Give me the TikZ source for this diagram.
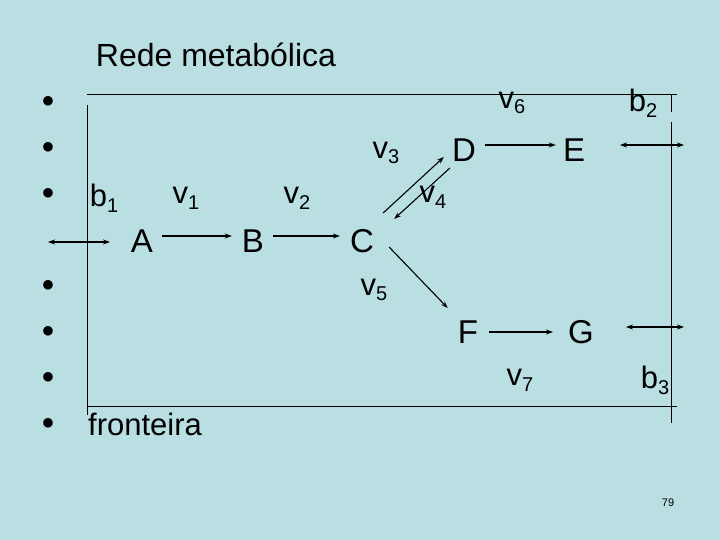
\documentclass[tikz,border=0pt]{standalone}
\usepackage{fontspec}
\setmainfont{Liberation Sans}
\usetikzlibrary{arrows.meta}
\definecolor{bgc}{RGB}{185,223,227}
\newcommand{\sbs}[1]{\raisebox{-0.35ex}{\fontsize{20}{22}\selectfont#1}}
\begin{document}
\begin{tikzpicture}[x=1pt,y=-1pt,
	met/.style={font=\fontsize{33}{36}\selectfont,inner sep=0pt},
	flux/.style={font=\fontsize{31}{34}\selectfont,inner sep=0pt},
	dot/.style={font=\fontsize{26}{28}\selectfont,inner sep=0pt},
	rx/.style={line width=1.1pt,-{Stealth[length=7pt,width=5pt]}},
	ex/.style={line width=1.1pt,{Stealth[length=7pt,width=5pt]}-{Stealth[length=7pt,width=5pt]}}]
	\fill[bgc] (0,0) rectangle (720,540);
	\useasboundingbox (0,0) rectangle (720,540);
	%
	\node[inner sep=0pt,font=\fontsize{32}{36}\selectfont] (title) at (216,55) {Rede metabólica};
	\foreach \y/\n in {102/1,148/2,194/3,286/4,332/5,378/6,424/7}
		\node[dot] (dot\n) at (48,\y) {$\bullet$};
	% fronteira
	\draw[line width=0.8pt] (87,94) -- (677,94);
	\draw[line width=0.8pt] (87,406) -- (677,406);
	\draw[line width=0.8pt] (87,105) -- (87,415);
	\draw[line width=0.8pt] (671,94) -- (671,112);
	\draw[line width=0.8pt] (671,122) -- (671,423);
	\node[flux] (front) at (145,424) {fronteira};
	% metabolitos
	\node[met] (A) at (142,241) {A};
	\node[met] (B) at (253,241) {B};
	\node[met] (C) at (362,241) {C};
	\node[met] (D) at (464,150) {D};
	\node[met] (E) at (574,150) {E};
	\node[met] (F) at (468,332) {F};
	\node[met] (G) at (581,332) {G};
	% fluxos
	\node[flux] (b1) at (104,198) {b\sbs{1}};
	\node[flux] (v1) at (186,198) {v\sbs{1}};
	\node[flux] (v2) at (297,198) {v\sbs{2}};
	\node[flux] (v3) at (386,153) {v\sbs{3}};
	\node[flux] (v4) at (433,197) {v\sbs{4}};
	\node[flux] (v5) at (374,290) {v\sbs{5}};
	\node[flux] (v6) at (512,103) {v\sbs{6}};
	\node[flux] (v7) at (520,380) {v\sbs{7}};
	\node[flux] (b2) at (643,103) {b\sbs{2}};
	\node[flux] (b3) at (655,380) {b\sbs{3}};
	\coordinate (l1) at (48,242);
	\coordinate (l2) at (110,242);
	\coordinate (r1) at (620,145);
	\coordinate (r2) at (684,145);
	\coordinate (s1) at (626,327);
	\coordinate (s2) at (684,327);
	%
	\draw[ex] (l1) -- (l2);
	\draw[ex] (r1) -- (r2);
	\draw[ex] (s1) -- (s2);
	\draw[rx] ([xshift=9pt,yshift=5pt]A.east) -- ([xshift=-10pt,yshift=5pt]B.west);
	\draw[rx] ([xshift=9pt,yshift=5pt]B.east) -- ([xshift=-10pt,yshift=5pt]C.west);
	\draw[rx] ([xshift=9pt,yshift=28pt]C.east) -- ([xshift=-8pt,yshift=-7pt]D.west);
	\draw[rx] ([xshift=-2pt,yshift=-18pt]D.west) -- ([xshift=20pt,yshift=22pt]C.east);
	\draw[rx] ([xshift=15pt,yshift=-6pt]C.east) -- ([xshift=-10pt,yshift=24pt]F.west);
	\draw[rx] ([xshift=9pt,yshift=5pt]D.east) -- ([xshift=-7pt,yshift=5pt]E.west);
	\draw[rx] ([xshift=11pt,yshift=0pt]F.east) -- ([xshift=-15pt,yshift=0pt]G.west);
	%
	\node[font=\fontsize{11}{12}\selectfont] (pg) at (668,503) {79};
\end{tikzpicture}
\end{document}
